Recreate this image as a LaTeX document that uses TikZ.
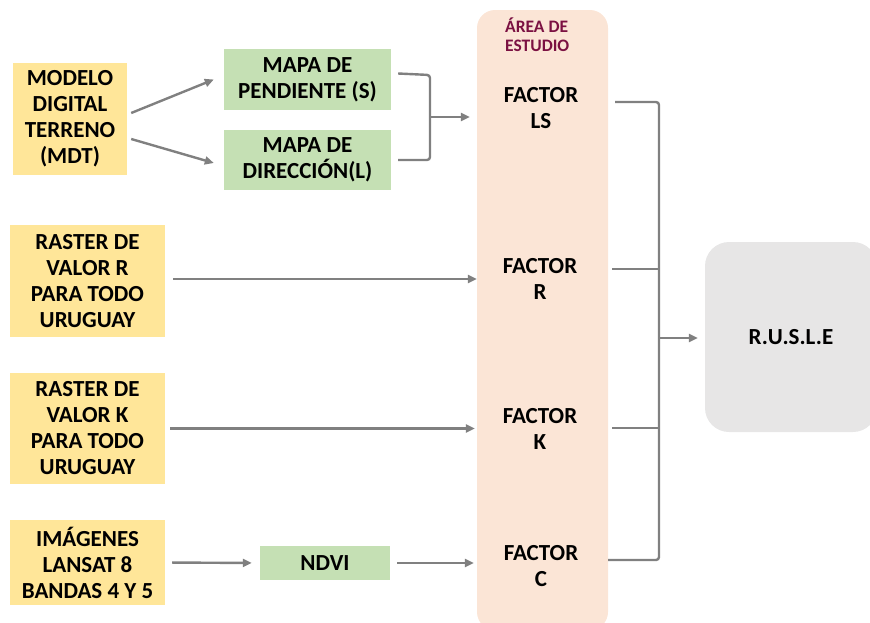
\documentclass[tikz,border=0pt]{standalone}
\usepackage{fontspec}
\setmainfont{Carlito}
\usetikzlibrary{arrows.meta}

\definecolor{amarillo}{HTML}{FFE699}
\definecolor{verde}{HTML}{C5E0B4}
\definecolor{salmon}{HTML}{FBE5D6}
\definecolor{grisclaro}{HTML}{E7E6E6}
\definecolor{grislinea}{HTML}{808080}
\definecolor{granate}{HTML}{7B1142}

\tikzset{
  entrada/.style={fill=amarillo, align=center, inner sep=0pt},
  mapa/.style={fill=verde, align=center, inner sep=0pt},
  factor/.style={align=center, inner sep=0pt},
  linea/.style={draw=grislinea, line width=2.4pt, rounded corners=3pt},
  flecha/.style={linea, -{Triangle[length=9pt,width=8pt]}}
}

\begin{document}
\begin{tikzpicture}[x=1pt, y=-1pt, font=\fontsize{23}{26}\selectfont\bfseries]
  \useasboundingbox (0,0) rectangle (870,622);

  % zona de estudio y resultado
  \node[fill=salmon, rounded corners=18pt, minimum width=131pt, minimum height=620pt] (area) at (542.5,320) {};
  \node[anchor=west, align=left, inner sep=0pt, text=granate, font=\fontsize{17.5}{19}\selectfont\bfseries] (titulo) at (505,35) {ÁREA DE\\ESTUDIO};
  \node[fill=grisclaro, rounded corners=24pt, minimum width=172pt, minimum height=190pt] (rusle) at (791,337) {R.U.S.L.E};

  % entradas
  \node[entrada, minimum width=114pt, minimum height=112pt] (mdt) at (70,119) {MODELO\\DIGITAL\\TERRENO\\(MDT)};
  \node[entrada, minimum width=155pt, minimum height=112pt] (rastR) at (87.5,281) {RASTER DE\\VALOR R\\PARA TODO\\URUGUAY};
  \node[entrada, minimum width=155pt, minimum height=111pt] (rastK) at (87.5,428.5) {RASTER DE\\VALOR K\\PARA TODO\\URUGUAY};
  \node[entrada, minimum width=155pt, minimum height=85pt] (img) at (87.5,562.5) {IMÁGENES\\LANSAT 8\\BANDAS 4 Y 5};

  % mapas intermedios
  \node[mapa, minimum width=167pt, minimum height=61pt] (pend) at (307.5,79.5) {MAPA DE\\PENDIENTE (S)};
  \node[mapa, minimum width=167pt, minimum height=60pt] (dir) at (307.5,160) {MAPA DE\\DIRECCIÓN(L)};
  \node[mapa, minimum width=130pt, minimum height=34pt] (ndvi) at (325,563) {NDVI};

  % factores
  \node[factor] (fLS) at (541,108) {FACTOR\\LS};
  \node[factor] (fR) at (540,279) {FACTOR\\R};
  \node[factor] (fK) at (540,429) {FACTOR\\K};
  \node[factor] (fC) at (541,566) {FACTOR\\C};

  \coordinate (jLS) at (430,117);
  \coordinate (t1) at (659,102);
  \coordinate (t2) at (659,269);
  \coordinate (t3) at (659,428);
  \coordinate (t4) at (659,560);
  \coordinate (jr) at (659,338);

  \draw[flecha] ([shift={(4,-6)}]mdt.east) -- ([shift={(-10,0)}]pend.west);
  \draw[flecha] ([shift={(4,20)}]mdt.east) -- ([shift={(-10,3)}]dir.west);
  \draw[linea] ([shift={(7,-6)}]pend.east) -- (jLS |- 0,75) -- (jLS |- 0,160) -- ([shift={(7,0)}]dir.east);
  \draw[flecha, shorten >=7pt] (jLS) -- (jLS -| area.west);
  \draw[flecha, shorten <=8pt] ([yshift=2pt]rastR.east) -- ([yshift=2pt]rastR.east -| area.west);
  \draw[flecha, shorten <=5pt, shorten >=2pt] (rastK.east) -- (rastK.east -| area.west);
  \draw[flecha, shorten <=7pt, shorten >=8pt] (img.east) -- (ndvi.west);
  \draw[flecha, shorten <=7pt, shorten >=3pt] (ndvi.east) -- (ndvi.east -| area.west);

  \draw[linea, shorten <=7pt] (area.east |- t1) -- (t1) -- (t4) -- (area.east |- t4);
  \draw[linea, shorten <=4pt] (area.east |- t2) -- (t2);
  \draw[linea, shorten <=4pt] (area.east |- t3) -- (t3);
  \draw[flecha, shorten >=7pt] (jr) -- (jr -| rusle.west);
\end{tikzpicture}
\end{document}
